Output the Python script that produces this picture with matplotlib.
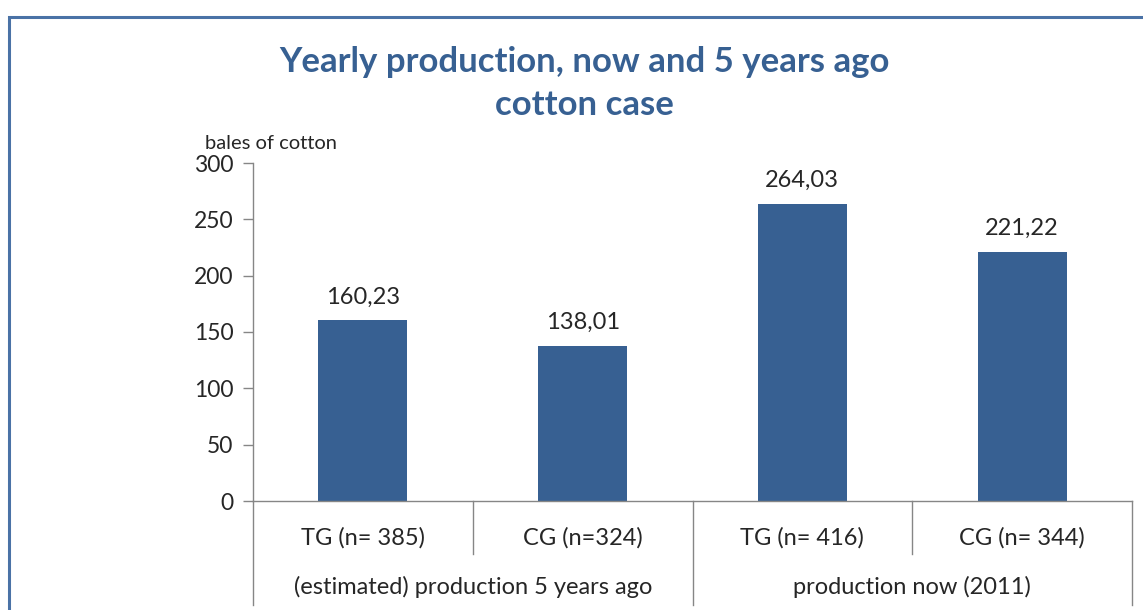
import matplotlib
matplotlib.use("Agg")
import matplotlib.pyplot as plt
from matplotlib.lines import Line2D
from matplotlib.patches import Rectangle

categories = ["TG (n= 385)", "CG (n=324)", "TG (n= 416)", "CG (n= 344)"]
values = [160.23, 138.01, 264.03, 221.22]
value_labels = ["160,23", "138,01", "264,03", "221,22"]
groups = ["(estimated) production 5 years ago", "production now (2011)"]
yticks = [0, 50, 100, 150, 200, 250, 300]

BAR = "#376092"
TITLE = "#376092"
AXIS = "#868686"
TXT = "#262626"
plt.rcParams['font.family'] = ['Lato', 'DejaVu Sans']

fig = plt.figure(figsize=(11.43, 6.10), dpi=100)
fig.patches.append(Rectangle((9/1143, -0.1), 1.2, 1 - 17/610 + 0.1, transform=fig.transFigure,
                             fill=False, edgecolor="#4a72a6", linewidth=2.2, zorder=0))

ax = fig.add_axes([253/1143, 1 - 501/610, (1132 - 253)/1143, (501 - 163)/610])
x = list(range(len(categories)))
ax.bar(x, values, width=0.405, color=BAR, zorder=2)
for xi, v, lab in zip(x, values, value_labels):
    ax.annotate(lab, (xi, v), xytext=(0, 9), textcoords="offset points",
                ha="center", va="bottom", fontsize=17, color=TXT)

ax.set_xlim(-0.5, 3.5)
ax.set_ylim(0, 300)
ax.set_yticks(yticks)
ax.set_yticklabels([str(t) for t in yticks], fontsize=16.5, color=TXT)
ax.tick_params(axis="y", length=7, width=1, color=AXIS, pad=7)
ax.set_xticks(x)
ax.set_xticklabels(categories, fontsize=17, color=TXT)
ax.tick_params(axis="x", length=0, pad=19)
for s in ["top", "right"]:
    ax.spines[s].set_visible(False)
for s in ["left", "bottom"]:
    ax.spines[s].set_color(AXIS)
    ax.spines[s].set_linewidth(1)

h = (501 - 163)
short = -(554 - 501) / h
long_ = -(605 - 501) / h
trans = ax.get_xaxis_transform()
for xs, yb in [(-0.5, long_), (0.5, short), (1.5, long_), (2.5, short), (3.5, long_)]:
    ax.add_line(Line2D([xs, xs], [0, yb], transform=trans, color=AXIS, lw=1, clip_on=False))
for gi, g in enumerate(groups):
    ax.text(0.5 + 2 * gi, -(587 - 501) / h, g, transform=trans, ha="center", va="center",
            fontsize=17, color=TXT)

ax.text(-0.5 - 48/220, 1.058, "bales of cotton", transform=trans, ha="left", va="center",
        fontsize=14.5, color=TXT)

fig.text(584/1143, 1 - 62/610, "Yearly production, now and 5 years ago", ha="center", va="center",
         fontsize=25, fontweight="bold", color=TITLE)
fig.text(584/1143, 1 - 105/610, "cotton case", ha="center", va="center",
         fontsize=25, fontweight="bold", color=TITLE)

fig.savefig("out.png", dpi=100)
